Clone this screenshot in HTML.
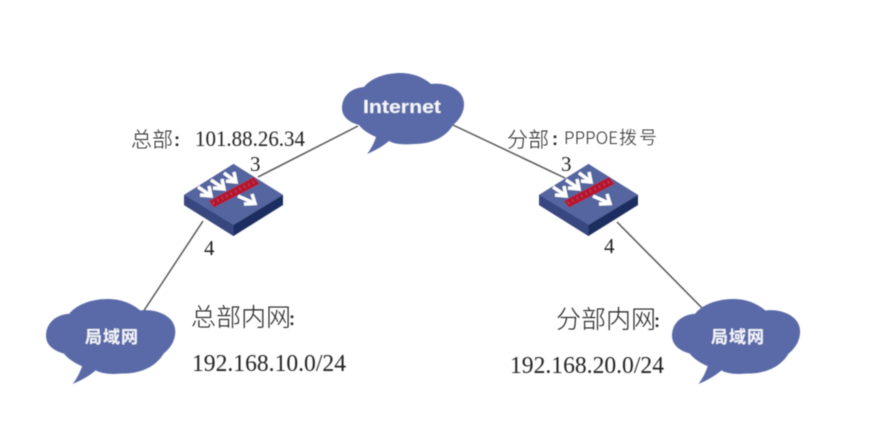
<!DOCTYPE html>
<html><head><meta charset="utf-8"><style>
html,body{margin:0;padding:0;background:#fff;width:895px;height:425px;overflow:hidden}
svg{display:block}
.s{font-family:"Liberation Serif","Noto Serif CJK SC",serif;fill:#222}
.c{font-family:"Noto Sans CJK SC","WenQuanYi Zen Hei",sans-serif;fill:#222;font-weight:300}
.k{font-family:"Liberation Sans",sans-serif;fill:#222;font-weight:bold}
.w{font-family:"Liberation Sans","Noto Sans CJK SC",sans-serif;fill:#f4f5fa;font-weight:bold}
</style></head><body>
<svg width="895" height="425" viewBox="0 0 895 425" xmlns="http://www.w3.org/2000/svg">
<defs>
<filter id="b" x="-5%" y="-5%" width="110%" height="110%"><feGaussianBlur stdDeviation="0.45"/></filter>
<path id="cloud" d="M25 81C29 76 32 70 34 64C25 60 20 56 17 52C6 49 0 43 0 35C0 24 8 15 22 14C28 6 42 0 58 0C72 0 82 5 89 11C100 9 122 14 122 31C122 41 116 48 111 52C104 64 90 71 72 71C60 72 52 71 47 68C40 74 32 78 25 81Z" fill="#5a6aa8"/>
<g id="sw">
<path d="M0 31L49.500 0L99 31V41L49.500 72L0 41Z" fill="#1f2d5f"/>
<path d="M0 31L49.500 61V72L0 41Z" fill="#37467f"/>
<path d="M0 31L49.500 0L99 31L49.500 61Z" fill="#55659f"/>
<g fill="none" stroke="#fff" stroke-width="3.400">
<path d="M14 23L26 31M16 31L27 32L25 22"/>
<path d="M27 16L39 24M29 24L40 25L38 15"/>
<path d="M40 9L51 17M42 17L52 18L50 8"/>
<path d="M54 32L70 39M60 40L71 39.500L68 30"/>
</g>
<path d="M25 37L70 13L75.500 20L30 43.500Z" fill="#b3192f"/>
<path d="M29 39L72 17" stroke="#c9465a" stroke-width="3" stroke-dasharray="1 4" fill="none"/>
</g>
</defs>
<g filter="url(#b)">
<g stroke="#555" stroke-width="1.500">
<line x1="358" y1="126" x2="258" y2="177"/>
<line x1="203" y1="221" x2="143" y2="312"/>
<line x1="453" y1="125" x2="565" y2="178"/>
<line x1="617" y1="222" x2="706" y2="312"/>
</g>
<use href="#cloud" x="342" y="73"/>
<use href="#cloud" transform="translate(46 299) scale(1.060 1.050)"/>
<use href="#cloud" transform="translate(672 299) scale(1.050 1.050)"/>
<use href="#sw" x="184" y="164"/>
<use href="#sw" x="539" y="164"/>
<text class="w" x="363" y="113" font-size="18" textLength="78" lengthAdjust="spacingAndGlyphs">Internet</text>
<text class="w" x="85" y="343" font-size="17" textLength="53">局域网</text>
<text class="w" x="711" y="343" font-size="17" textLength="53">局域网</text>
<text class="c" x="131" y="147" font-size="21" textLength="42" lengthAdjust="spacingAndGlyphs">总部</text>
<text class="k" x="174" y="146" font-size="18">:</text>
<text class="s" x="195" y="146" font-size="22" textLength="110" lengthAdjust="spacingAndGlyphs">101.88.26.34</text>
<text class="s" x="250" y="171" font-size="21">3</text>
<text class="s" x="204" y="255" font-size="21">4</text>
<text class="c" x="507" y="147" font-size="21" textLength="42" lengthAdjust="spacingAndGlyphs">分部</text>
<text class="k" x="552" y="145" font-size="18">:</text>
<text class="c" x="564" y="144" font-size="17" textLength="54">PPPOE</text>
<text class="c" x="619" y="144" font-size="18" textLength="38">拨号</text>
<text class="s" x="561" y="171" font-size="21">3</text>
<text class="s" x="604" y="253" font-size="21">4</text>
<text class="c" x="191" y="326" font-size="25" textLength="100" lengthAdjust="spacingAndGlyphs">总部内网</text>
<text class="k" x="289" y="325" font-size="18">:</text>
<text class="s" x="192" y="371" font-size="24" textLength="154" lengthAdjust="spacingAndGlyphs">192.168.10.0/24</text>
<text class="c" x="556" y="328" font-size="25" textLength="100" lengthAdjust="spacingAndGlyphs">分部内网</text>
<text class="k" x="654" y="327" font-size="18">:</text>
<text class="s" x="510" y="373" font-size="24" textLength="154" lengthAdjust="spacingAndGlyphs">192.168.20.0/24</text>
</g>
</svg>
</body></html>
